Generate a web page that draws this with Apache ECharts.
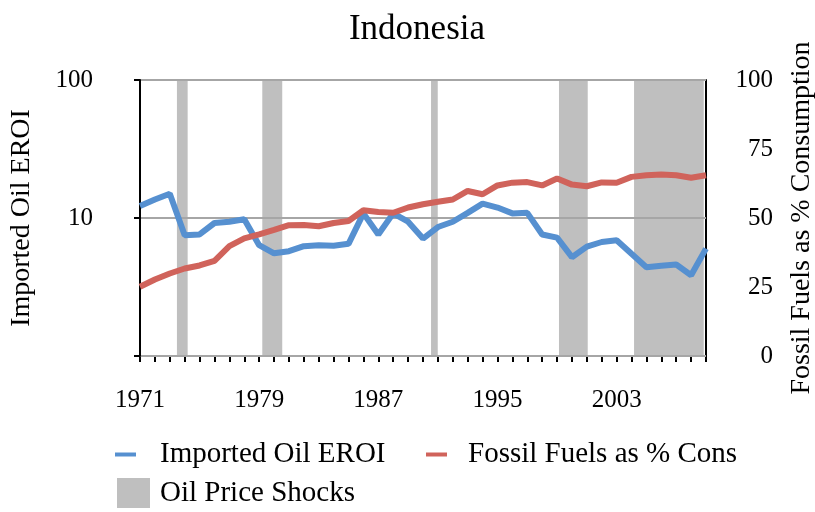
<!DOCTYPE html>
<html>
<head>
<meta charset="utf-8">
<title>Indonesia</title>
<script src="https://cdn.jsdelivr.net/npm/echarts@6/dist/echarts.min.js"></script>
<style>
  html, body { margin: 0; padding: 0; background: #fff; }
  #chart { width: 815px; height: 512px; }
</style>
</head>
<body>
<div id="chart"></div>
<script>
// Years covered by the series
const years = [];
for (let y = 1971; y <= 2009; y++) years.push(y);

// Energy return on investment of imported oil (log scale, left axis)
const importedOilEroi = [
  12.2, 13.6, 15.0, 7.5, 7.6, 9.2, 9.4, 9.8, 6.35, 5.55,
  5.75, 6.25, 6.35, 6.3, 6.5, 10.8, 7.6, 10.8, 9.4, 7.1,
  8.6, 9.4, 10.9, 12.7, 11.9, 10.8, 10.9, 7.6, 7.2, 5.2,
  6.2, 6.7, 6.9, 5.5, 4.4, 4.5, 4.6, 3.85, 6.0
];

// Fossil fuels as a share of total energy consumption, % (right axis)
const fossilShare = [
  25.1, 27.7, 29.9, 31.7, 32.8, 34.5, 39.8, 42.6, 44.1, 45.7,
  47.4, 47.5, 47.0, 48.2, 48.9, 52.8, 52.2, 51.9, 53.8, 55.0,
  55.9, 56.7, 59.8, 58.6, 61.8, 62.8, 63.0, 61.8, 64.3, 62.1,
  61.5, 62.9, 62.8, 64.9, 65.5, 65.8, 65.5, 64.6, 65.5
];

// Oil price shock periods (fractional years)
const shockStart = [1973.48, 1979.21, 1990.54, 1999.13, 2004.17];
const shockEnd   = [1974.20, 1980.55, 1990.99, 2001.06, 2008.85];

// Axis tick labels
const eroiTicks = [1, 10, 100];
const shareTicks = [0, 25, 50, 75, 100];
const yearLabelStep = 8;

const FONT = 'Liberation Serif';
const BLUE = '#5690d0';
const RED = '#d0635b';
const SHADE = '#bfbfbf';

const chart = echarts.init(document.getElementById('chart'), null, { renderer: 'canvas' });

const option = {
  animation: false,
  backgroundColor: '#ffffff',
  textStyle: { fontFamily: FONT, color: '#000' },
  title: {
    text: 'Indonesia',
    left: 412,
    textAlign: 'center',
    top: 7,
    textStyle: { fontFamily: FONT, fontSize: 35, fontWeight: 'normal', color: '#000' }
  },
  grid: {
    left: 140, right: 109, top: 80, bottom: 156,
    containLabel: false,
    outerBoundsMode: 'none'
  },
  legend: [
    {
      data: ['Imported Oil EROI'],
      left: 115, top: 440, padding: 0,
      icon: 'rect', itemWidth: 21, itemHeight: 4,
      textStyle: { fontFamily: FONT, fontSize: 29, color: '#000', padding: [0, 0, 0, 19] }
    },
    {
      data: ['Fossil Fuels as % Cons'],
      left: 426, top: 440, padding: 0,
      icon: 'rect', itemWidth: 21, itemHeight: 4,
      textStyle: { fontFamily: FONT, fontSize: 29, color: '#000', padding: [0, 0, 0, 16] }
    },
    {
      data: ['Oil Price Shocks'],
      left: 117, top: 478, padding: 0,
      icon: 'rect', itemWidth: 33, itemHeight: 30,
      textStyle: { fontFamily: FONT, fontSize: 29, color: '#000', padding: [2, 0, 0, 5] }
    }
  ],
  xAxis: {
    type: 'value',
    min: years[0],
    max: years[years.length - 1],
    interval: 1,
    splitLine: { show: false },
    axisLine: { lineStyle: { color: '#000', width: 2 } },
    axisTick: { show: true, length: 6, lineStyle: { color: '#000', width: 2 } },
    axisLabel: {
      margin: 32,
      fontFamily: FONT, fontSize: 25, color: '#000',
      formatter: v => ((v - years[0]) % yearLabelStep === 0 ? String(v) : '')
    }
  },
  yAxis: [
    {
      type: 'log',
      logBase: 10,
      min: eroiTicks[0],
      max: eroiTicks[eroiTicks.length - 1],
      z: 1,
      name: 'Imported Oil EROI',
      nameLocation: 'middle',
      nameGap: 104,
      nameRotate: 90,
      nameTextStyle: { fontFamily: FONT, fontSize: 28, color: '#000' },
      axisLine: { show: true, lineStyle: { color: '#000', width: 2 } },
      axisTick: { show: true, length: 6, lineStyle: { color: '#000', width: 2 } },
      splitLine: { show: true, lineStyle: { color: '#a6a6a6', width: 2 } },
      axisLabel: {
        margin: 47,
        fontFamily: FONT, fontSize: 25, color: '#000',
        formatter: v => (v === eroiTicks[0] ? '' : String(v))
      }
    },
    {
      type: 'value',
      min: shareTicks[0],
      max: shareTicks[shareTicks.length - 1],
      interval: shareTicks[1] - shareTicks[0],
      position: 'right',
      name: 'Fossil Fuels as % Consumption',
      nameLocation: 'middle',
      nameGap: 82,
      nameRotate: 90,
      nameTextStyle: { fontFamily: FONT, fontSize: 28, color: '#000' },
      axisLine: { show: true, lineStyle: { color: '#000', width: 2 } },
      axisTick: { show: false },
      splitLine: { show: false },
      axisLabel: {
        margin: 67,
        align: 'right',
        fontFamily: FONT, fontSize: 25, color: '#000'
      }
    }
  ],
  series: [
    {
      name: 'Oil Price Shocks',
      type: 'custom',
      xAxisIndex: 0,
      yAxisIndex: 1,
      z: 0,
      itemStyle: { color: SHADE },
      encode: { x: [0, 1] },
      data: shockStart.map((s, i) => [s, shockEnd[i]]),
      renderItem: (params, api) => {
        const top = api.coord([api.value(0), shareTicks[shareTicks.length - 1]]);
        const bottom = api.coord([api.value(1), shareTicks[0]]);
        return {
          type: 'rect',
          shape: { x: top[0], y: top[1], width: bottom[0] - top[0], height: bottom[1] - top[1] },
          style: { fill: SHADE }
        };
      }
    },
    {
      name: 'Imported Oil EROI',
      type: 'line',
      yAxisIndex: 0,
      z: 3,
      showSymbol: false,
      symbol: 'none',
      color: BLUE,
      lineStyle: { color: BLUE, width: 6 },
      data: years.map((y, i) => [y, importedOilEroi[i]])
    },
    {
      name: 'Fossil Fuels as % Cons',
      type: 'line',
      yAxisIndex: 1,
      z: 3,
      showSymbol: false,
      symbol: 'none',
      color: RED,
      lineStyle: { color: RED, width: 6 },
      data: years.map((y, i) => [y, fossilShare[i]])
    }
  ]
};

chart.setOption(option);
</script>
</body>
</html>
